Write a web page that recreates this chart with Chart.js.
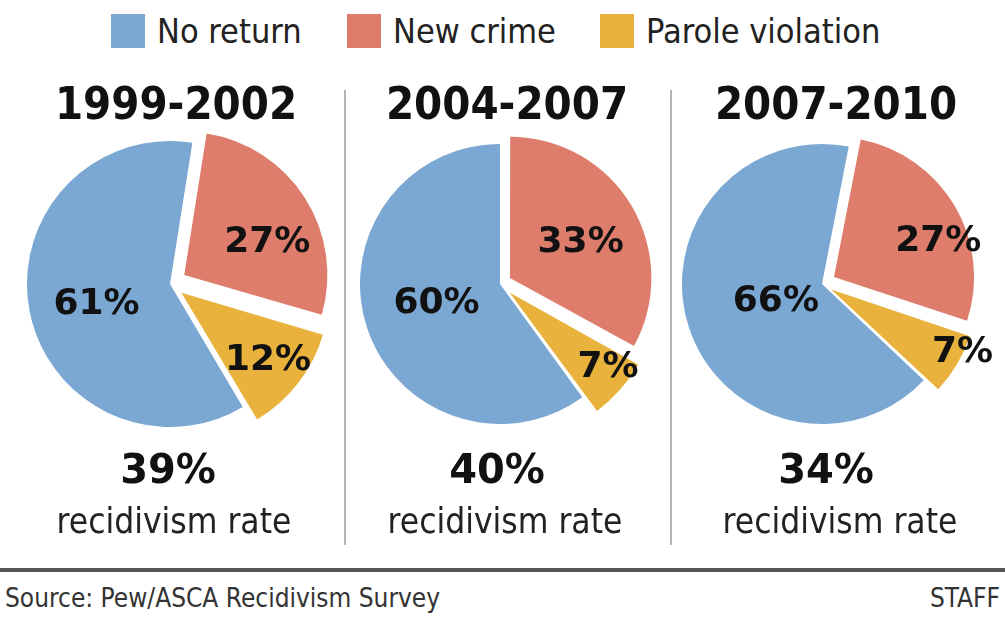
<!DOCTYPE html>
<html>
<head>
<meta charset="utf-8">
<script src="https://cdn.jsdelivr.net/npm/chart.js@4.4.1/dist/chart.umd.min.js"></script>
<style>
  body {
    margin: 0;
    background: #fff;
    width: 1005px;
    height: 617px;
    position: relative;
    overflow: hidden;
    font-family: "DejaVu Sans Condensed", "DejaVu Sans", sans-serif;
    font-stretch: condensed;
    color: #1a1a1a;
  }
  .abs { position: absolute; white-space: nowrap; line-height: 1; }
  .center { transform: translate(-50%, -50%); }
  .legend-item { position: absolute; top: 14px; height: 34px; display: flex; align-items: center; }
  .swatch { width: 34px; height: 34px; margin-right: 12px; }
  .legend-text { font-size: 34px; line-height: 1; color: #222; }
  .title { font-weight: bold; font-size: 45px; color: #111; }
  .rate { font-family: "DejaVu Sans", sans-serif; font-stretch: normal; font-weight: bold; font-size: 40px; color: #111; }
  .sub { font-size: 35px; color: #222; }
  .vline { position: absolute; width: 2px; background: #b5b5b5; top: 90px; height: 455px; }
  .hline { position: absolute; left: 0; width: 1005px; top: 568px; height: 4px; background: #555; }
  .foot { font-size: 26px; color: #333; top: 585px; }
  canvas { position: absolute; }
</style>
</head>
<body>
<div id="legend"></div>
<div class="vline" style="left:344px"></div>
<div class="vline" style="left:670px"></div>
<div class="hline"></div>
<div class="abs foot" style="left:5px">Source: Pew/ASCA Recidivism Survey</div>
<div class="abs foot" style="right:5px">STAFF</div>
<script>
// data
const categories = ['No return', 'New crime', 'Parole violation'];
const periods = ['1999-2002', '2004-2007', '2007-2010'];
const shares1999 = [61, 27, 12];
const shares2004 = [60, 33, 7];
const shares2007 = [66, 27, 7];
const recidivismRates = [39, 40, 34];
const colors = ['#7ba7d3', '#de7d6b', '#e8b23c'];

// layout for each panel
const pieCenters = [[170, 284], [500, 284], [822, 284]];
const pieRadius = [143, 140, 140];
const redTilt = [9, 0, 11];           // degrees the "New crime" slice starts past 12 o'clock
const explodePx = [[0, 17, 19], [0, 13, 20], [0, 14, 17]];
// label placement: radius (px from centre) and angle tweak from slice mid-angle
const labelRadius = [[76, 106, 124], [66, 91, 136], [49, 124, 156]];
const labelTweak = [[-4, 9, 0], [2, 3, -4], [-2, 10, -5]];
const titleX = [176, 507, 836];
const rateX = [168, 497, 826];
const subX = [174, 505, 840];
const legendLeft = [111, 347, 600];

const allShares = [shares1999, shares2004, shares2007];

// legend
const legend = document.getElementById('legend');
categories.forEach((c, i) => {
  const item = document.createElement('div');
  item.className = 'legend-item';
  item.style.left = legendLeft[i] + 'px';
  item.innerHTML = `<div class="swatch" style="background:${colors[i]}"></div><span class="legend-text">${c}</span>`;
  legend.appendChild(item);
});

function addText(cls, text, x, y) {
  const d = document.createElement('div');
  d.className = 'abs center ' + cls;
  d.style.left = x + 'px';
  d.style.top = y + 'px';
  d.textContent = text;
  document.body.appendChild(d);
}

const sliceLabels = {
  id: 'sliceLabels',
  afterDatasetsDraw(chart) {
    const k = chart.options.panelIndex;
    const meta = chart.getDatasetMeta(0);
    const ctx = chart.ctx;
    ctx.save();
    ctx.font = 'bold 36px "DejaVu Sans", sans-serif';
    ctx.fillStyle = '#111';
    ctx.textAlign = 'center';
    ctx.textBaseline = 'middle';
    meta.data.forEach((arc, i) => {
      const mid = (arc.startAngle + arc.endAngle) / 2 + labelTweak[k][i] * Math.PI / 180;
      const r = labelRadius[k][i];
      const x = arc.x + Math.cos(mid) * r;
      const y = arc.y + Math.sin(mid) * r;
      ctx.fillText(chart.data.datasets[0].data[i] + '%', x, y + 1);
    });
    ctx.restore();
  }
};

const size = 370;
allShares.forEach((shares, k) => {
  const canvas = document.createElement('canvas');
  canvas.width = size;
  canvas.height = size;
  canvas.style.left = (pieCenters[k][0] - size / 2) + 'px';
  canvas.style.top = (pieCenters[k][1] - size / 2) + 'px';
  document.body.appendChild(canvas);

  // Chart.js shifts an arc by offset/4 * (2 - sin(circumference)), so convert px to offset
  const offsets = shares.map((s, i) => {
    const circ = Math.min(Math.PI, s / 100 * 2 * Math.PI);
    return 4 * explodePx[k][i] / (2 - Math.sin(circ));
  });

  new Chart(canvas, {
    type: 'pie',
    data: {
      labels: categories,
      datasets: [{
        data: shares,
        backgroundColor: colors,
        borderWidth: 0,
        offset: offsets,
      }],
    },
    options: {
      panelIndex: k,
      responsive: false,
      animation: false,
      devicePixelRatio: 1,
      radius: pieRadius[k],
      rotation: redTilt[k] - shares[0] * 3.6,
      layout: { padding: 0 },
      plugins: {
        legend: { display: false },
        tooltip: { enabled: false },
      },
    },
    plugins: [sliceLabels],
  });

  addText('title', periods[k], titleX[k], 103);
  addText('rate', recidivismRates[k] + '%', rateX[k], 469);
  addText('sub', 'recidivism rate', subX[k], 521);
});
</script>
</body>
</html>
